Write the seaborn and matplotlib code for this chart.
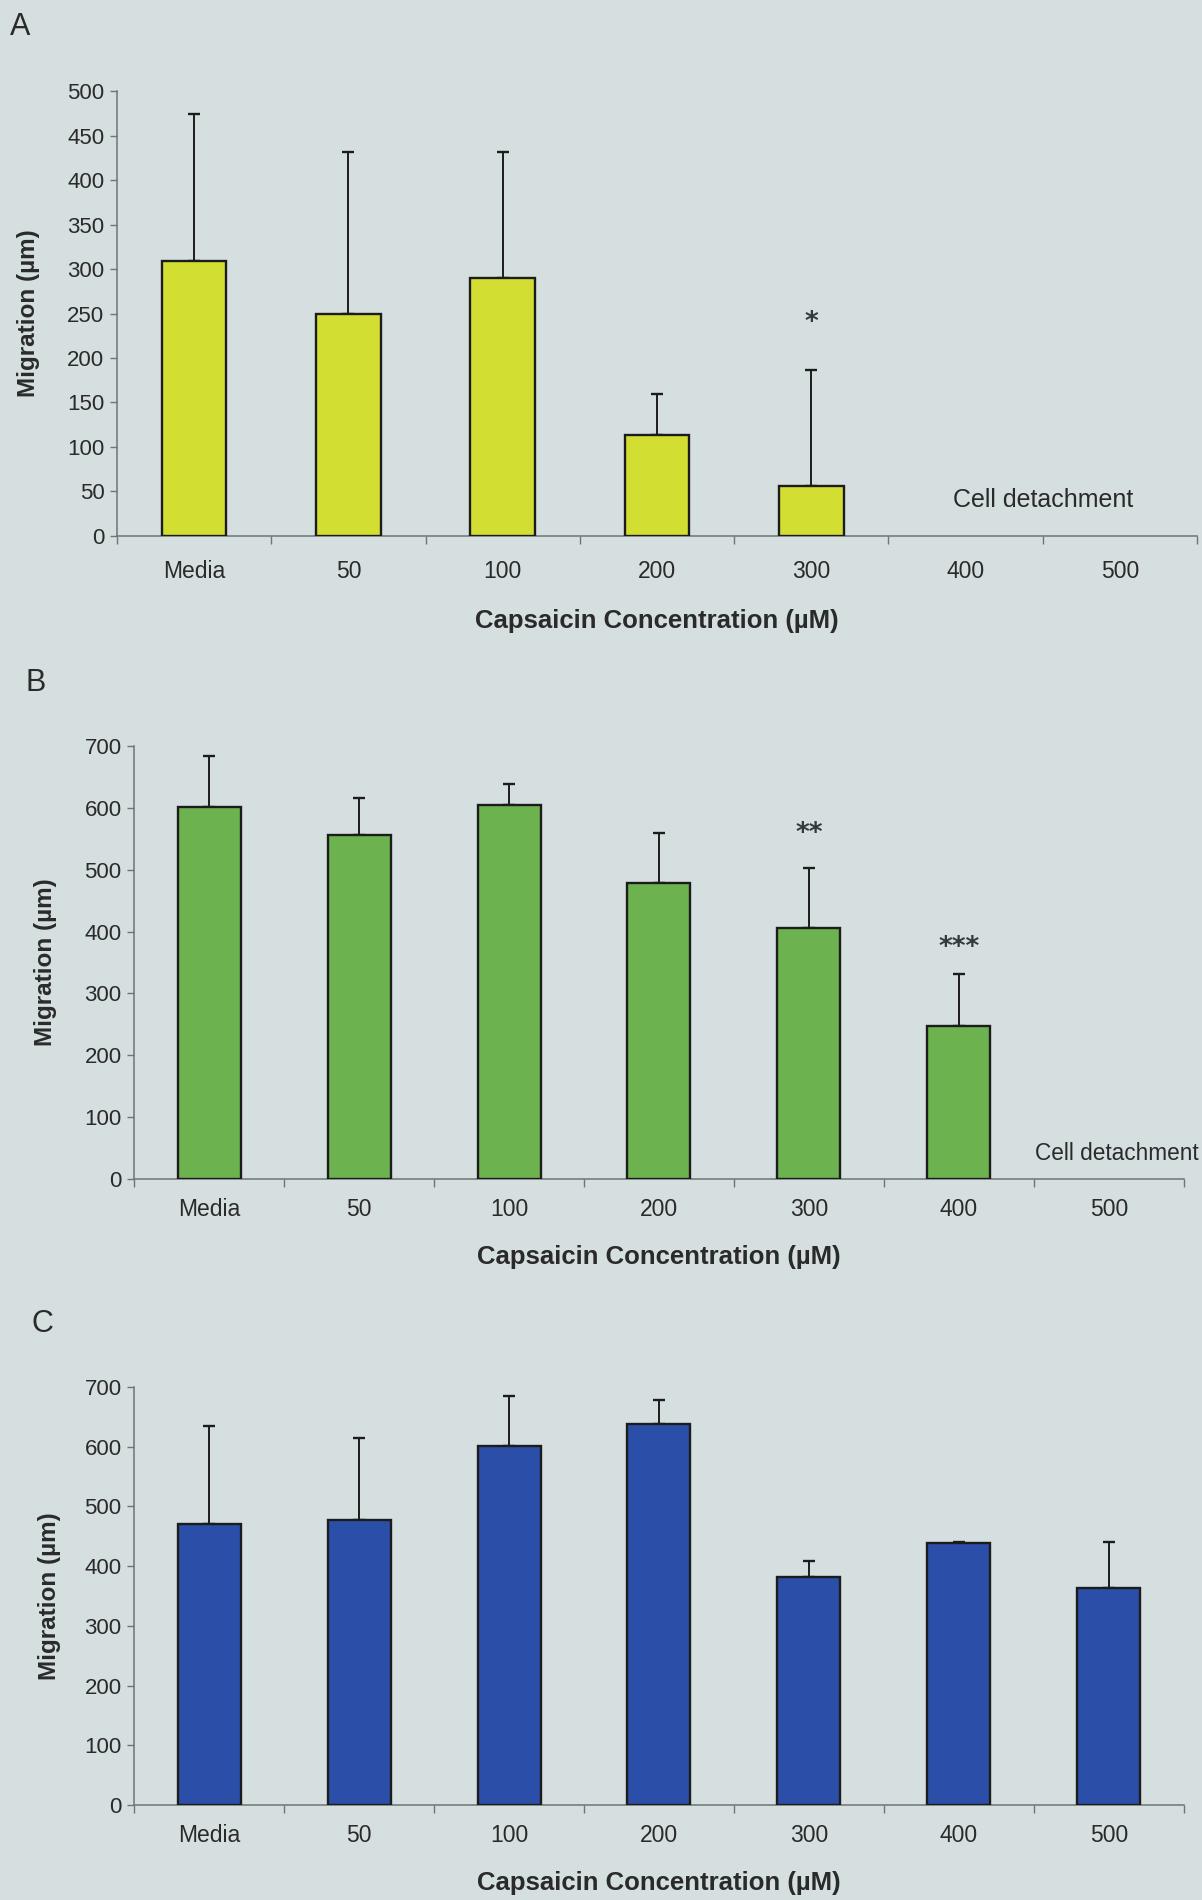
import numpy as np
import pandas as pd
import matplotlib
matplotlib.use("Agg")
import matplotlib.pyplot as plt
import seaborn as sns

# Capsaicin concentrations (µM) on the x axis
conc_labels = ["Media", "50", "100", "200", "300", "400", "500"]

# Panel A: mean migration and upper SD (400 and 500 µM: cells detached)
a_conc = ["Media", "50", "100", "200", "300"]
a_mean = [309, 250, 290, 114, 56]
a_err = [165, 182, 141, 46, 130]

# Panel B
b_conc = ["Media", "50", "100", "200", "300", "400"]
b_mean = [602, 556, 605, 478, 406, 248]
b_err = [82, 60, 33, 81, 96, 83]

# Panel C
c_conc = ["Media", "50", "100", "200", "300", "400", "500"]
c_mean = [470, 477, 602, 638, 381, 439, 364]
c_err = [165, 138, 83, 40, 28, 2, 77]

# Significance marks: (concentration, y position, text)
a_marks = [("300", 239, "*")]
b_marks = [("300", 557, "**"), ("400", 373, "***")]

BG = "#d5dfe0"
TXT = "#2a2a2a"
AXC = "#6f7474"

sns.set_theme(style="white")
plt.rcParams["font.family"] = ["Liberation Sans", "DejaVu Sans"]
plt.rcParams["text.color"] = TXT
plt.rcParams["axes.labelcolor"] = TXT
plt.rcParams["xtick.color"] = TXT
plt.rcParams["ytick.color"] = TXT

fig = plt.figure(figsize=(12.02, 19.0), dpi=100, facecolor=BG)

panels = [
    dict(letter="A", conc=a_conc, mean=a_mean, err=a_err, color="#d3de33",
         rect=[0.0973, 0.7179, 0.8985, 0.2342], ymax=500, ystep=50,
         marks=a_marks, detach=(5.5, 40), detach_fs=18, ylab_x=-0.071,
         xpad=17, xlabpad=19, letter_xy=(0.008, 0.986)),
    dict(letter="B", conc=b_conc, mean=b_mean, err=b_err, color="#6cb34f",
         rect=[0.1115, 0.3795, 0.8735, 0.2279], ymax=700, ystep=100,
         marks=b_marks, detach=(6.05, 41), detach_fs=16.3, ylab_x=-0.073,
         xpad=14, xlabpad=17, letter_xy=(0.021, 0.6405)),
    dict(letter="C", conc=c_conc, mean=c_mean, err=c_err, color="#2b4fa9",
         rect=[0.1115, 0.0500, 0.8735, 0.2200], ymax=700, ystep=100,
         marks=[], detach=None, detach_fs=16, ylab_x=-0.070,
         xpad=14, xlabpad=17, letter_xy=(0.026, 0.3030)),
]

for p in panels:
    ax = fig.add_axes(p["rect"])
    ax.set_facecolor(BG)
    df = pd.DataFrame({"conc": p["conc"], "migration": p["mean"]})
    sns.barplot(data=df, x="conc", y="migration", order=conc_labels,
                color=p["color"], saturation=1, width=0.42, errorbar=None,
                edgecolor="#1c1c1c", linewidth=1.7, ax=ax, zorder=3)
    xpos = [conc_labels.index(c) for c in p["conc"]]
    ax.errorbar(xpos, p["mean"], yerr=[np.zeros(len(p["err"])), p["err"]],
                fmt="none", ecolor="#1c1c1c", elinewidth=1.4, capsize=4.5,
                capthick=1.7, zorder=2)

    ax.set_xlim(-0.5, len(conc_labels) - 0.5)
    ax.set_ylim(0, p["ymax"])
    ax.set_yticks(np.arange(0, p["ymax"] + 1, p["ystep"]))
    ax.tick_params(axis="y", labelsize=16, length=5, width=1, color=AXC,
                   direction="out", left=True, pad=4)
    ax.set_xticks(range(len(conc_labels)))
    ax.set_xticklabels(conc_labels)
    ax.tick_params(axis="x", which="major", labelsize=16.5, length=0,
                   pad=p["xpad"])
    ax.set_xticks(np.arange(-0.5, len(conc_labels), 1.0), minor=True)
    ax.tick_params(axis="x", which="minor", length=6, width=1, color=AXC,
                   direction="out", bottom=True)

    for side in ["top", "right"]:
        ax.spines[side].set_visible(False)
    for side in ["left", "bottom"]:
        ax.spines[side].set_color(AXC)
        ax.spines[side].set_linewidth(1.1)

    ax.set_xlabel("Capsaicin Concentration (µM)", fontsize=18.5,
                  fontweight="bold", labelpad=p["xlabpad"])
    ax.set_ylabel("Migration (µm)", fontsize=17.5, fontweight="bold")
    ax.yaxis.set_label_coords(p["ylab_x"], 0.5)

    for conc, yv, txt in p["marks"]:
        ax.text(conc_labels.index(conc), yv, txt, ha="center", va="center",
                fontsize=19, fontweight="bold", family="DejaVu Sans",
                color="#333a3c")
    if p["detach"] is not None:
        ax.text(p["detach"][0], p["detach"][1], "Cell detachment",
                ha="center", va="center", fontsize=p["detach_fs"], color=TXT)

    fig.text(p["letter_xy"][0], p["letter_xy"][1], p["letter"], fontsize=22,
             ha="left", va="center", color=TXT)

fig.savefig("out.png", dpi=100, facecolor=BG)
